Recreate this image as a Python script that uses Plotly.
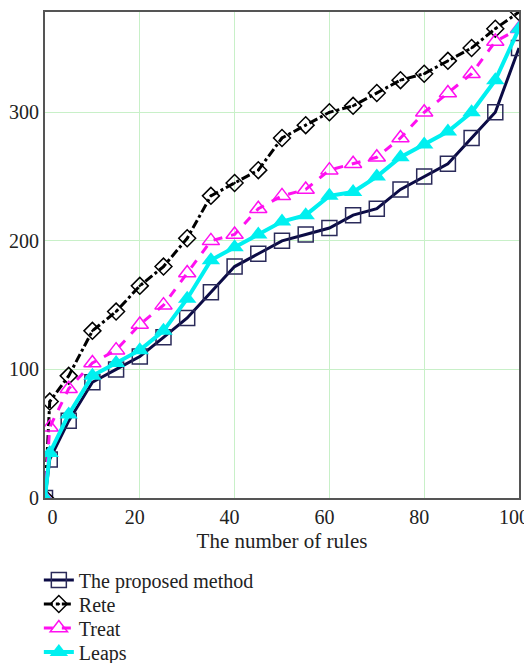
import plotly.graph_objects as go

rules = [0, 1, 5, 10, 15, 20, 25, 30, 35, 40, 45, 50, 55, 60, 65, 70, 75, 80, 85, 90, 95, 100]
proposed = [0, 30, 60, 90, 100, 110, 125, 140, 160, 180, 190, 200, 205, 210, 220, 225, 240, 250, 260, 280, 300, 350]
rete = [0, 75, 95, 130, 145, 165, 180, 202, 235, 245, 255, 280, 290, 300, 305, 315, 325, 330, 340, 350, 365, 378]
treat = [0, 55, 85, 105, 115, 135, 150, 175, 200, 205, 225, 235, 240, 255, 260, 265, 280, 300, 315, 330, 355, 365]
leaps = [0, 35, 65, 95, 105, 115, 130, 155, 185, 195, 205, 215, 220, 235, 238, 250, 265, 275, 285, 300, 325, 365]

x_ticks = [0, 20, 40, 60, 80, 100]
y_ticks = [0, 100, 200, 300]

FAM = "Liberation Serif"
TXT = "#222"

fig = go.Figure()
fig.add_trace(go.Scatter(x=rules, y=proposed, name="The proposed method", mode="lines+markers",
                         legend="legend",
                         line=dict(color="#0b0b45", width=3),
                         marker=dict(symbol="square-open", size=15, color="#2a2a5a", line=dict(width=1.5))))
fig.add_trace(go.Scatter(x=rules, y=rete, name="Rete", mode="lines+markers",
                         legend="legend2",
                         line=dict(color="black", width=3, dash="dashdot"),
                         marker=dict(symbol="diamond-open-dot", size=13, color="black", line=dict(width=1.5))))
fig.add_trace(go.Scatter(x=rules, y=treat, name="Treat", mode="lines+markers",
                         legend="legend3",
                         line=dict(color="#ff10f0", width=3, dash="dash"),
                         marker=dict(symbol="triangle-up-open", size=15, color="#ff10f0", line=dict(width=1.5))))
fig.add_trace(go.Scatter(x=rules, y=leaps, name="Leaps", mode="lines+markers",
                         legend="legend4",
                         line=dict(color="#00f0f0", width=4),
                         marker=dict(symbol="triangle-up", size=16, color="#00f0f0")))


def leg(yc):
    return dict(x=-0.013, y=yc, xanchor="left", yanchor="middle", orientation="v",
                font=dict(family=FAM, size=20, color=TXT),
                itemwidth=30, bgcolor="rgba(0,0,0,0)", borderwidth=0)


fig.update_layout(
    width=532, height=663,
    margin=dict(l=37, r=21, t=4, b=173, autoexpand=False),
    paper_bgcolor="white", plot_bgcolor="white",
    font=dict(family=FAM, size=20, color=TXT),
    showlegend=True,
    legend=leg(-0.1687),
    legend2=leg(-0.2181),
    legend3=leg(-0.2675),
    legend4=leg(-0.3169),
)

xt_text = [str(v) for v in x_ticks]
xt_text[0] = "\u00a0" * 5 + xt_text[0]

fig.update_xaxes(range=[0, 100], tickvals=x_ticks, ticktext=xt_text,
                 showgrid=True, gridcolor="#c8f0c8", gridwidth=1,
                 showline=True, linecolor="#555", linewidth=2, mirror=True,
                 zeroline=False, ticks="", ticklabelshift=-5, ticklabelstandoff=0,
                 title=dict(text="The number of rules", standoff=6,
                            font=dict(family=FAM, size=21, color=TXT)),
                 tickfont=dict(family=FAM, size=20, color=TXT))
fig.update_yaxes(range=[0, 378], tickvals=y_ticks, ticktext=[str(v) for v in y_ticks],
                 showgrid=True, gridcolor="#c8f0c8", gridwidth=1,
                 showline=True, linecolor="#555", linewidth=2, mirror=True,
                 zeroline=False, ticks="", tickfont=dict(family=FAM, size=20, color=TXT))

fig.write_html("out.html")
